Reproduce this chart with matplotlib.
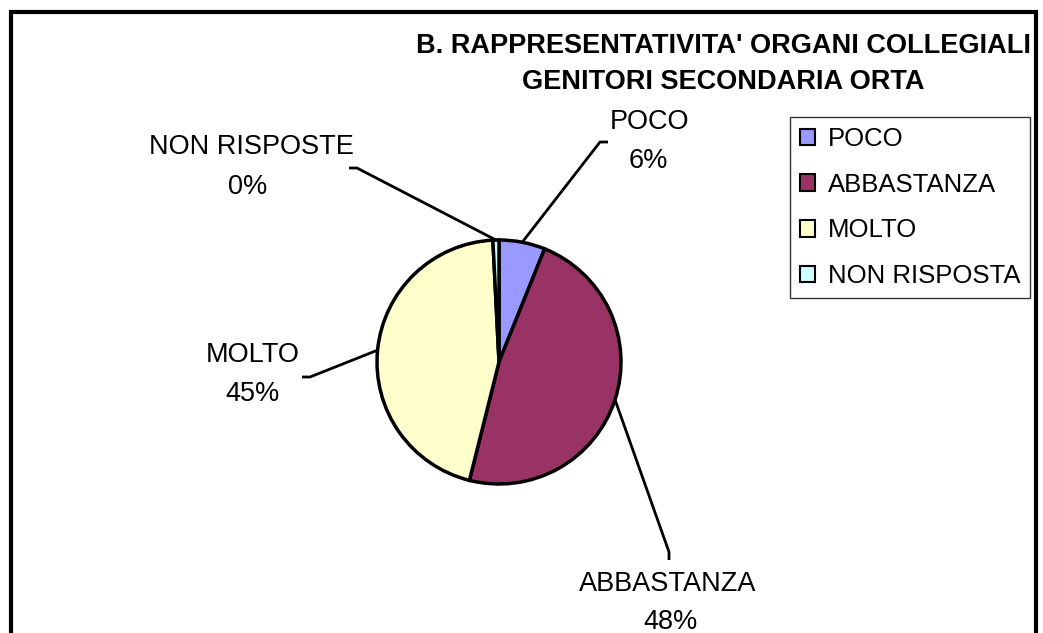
import numpy as np
import matplotlib
matplotlib.use("Agg")
import matplotlib.pyplot as plt
from matplotlib.patches import Rectangle

plt.rcParams['font.family'] = ['Liberation Sans', 'DejaVu Sans']

# data
categories = ['POCO', 'ABBASTANZA', 'MOLTO', 'NON RISPOSTA']
label_names = ['POCO', 'ABBASTANZA', 'MOLTO', 'NON RISPOSTE']
shares = [6.1, 47.8, 45.3, 0.8]
pct_labels = ['6%', '48%', '45%', '0%']
colors = ['#9999FF', '#993366', '#FFFFCC', '#CCFFFF']
title_lines = ["B. RAPPRESENTATIVITA' ORGANI COLLEGIALI",
               "GENITORI SECONDARIA ORTA"]

W, H = 1043, 633
CX, CY, R = 499, 362, 122
FS = 19.5


def py(y):
    # pixel row (from top) -> data y
    return H - y


fig = plt.figure(figsize=(W / 100, H / 100), dpi=100)
ax = fig.add_axes([0, 0, 1, 1])

wedges, _ = ax.pie(shares, colors=colors, startangle=90, counterclock=False,
                   center=(CX, py(CY)), radius=R,
                   wedgeprops=dict(edgecolor='black', linewidth=2.5))
ax.set_xlim(0, W)
ax.set_ylim(0, H)
ax.set_aspect('equal')
ax.axis('off')

# label layout: (elbow point, tick end, name pos, pct pos)
label_layout = [
    ((600, 142), (608, 142), (649, 122), (648, 161)),
    ((669, 552), (669, 560), (668, 584), (670, 622)),
    ((310, 377), (302, 377), (253, 355), (252, 394)),
    ((357, 168), (349, 168), (251, 147), (248, 187)),
]

for w, name, pct, (elbow, tick, npos, ppos) in zip(wedges, label_names, pct_labels, label_layout):
    mid = np.deg2rad((w.theta1 + w.theta2) / 2)
    sx = CX + R * np.cos(mid)
    sy = py(CY) + R * np.sin(mid)
    ax.plot([sx, elbow[0], tick[0]], [sy, py(elbow[1]), py(tick[1])],
            color='black', lw=2, solid_capstyle='butt')
    ax.text(npos[0], py(npos[1]), name, ha='center', va='center', fontsize=FS)
    ax.text(ppos[0], py(ppos[1]), pct, ha='center', va='center', fontsize=FS)

fig.text(723 / W, 1 - 46 / H, title_lines[0], ha='center', va='center',
         fontsize=FS, fontweight='bold')
fig.text(723 / W, 1 - 82 / H, title_lines[1], ha='center', va='center',
         fontsize=FS, fontweight='bold')

leg = ax.legend(wedges, categories, loc='upper left',
                bbox_to_anchor=(790 / W, 1 - 117 / H), bbox_transform=fig.transFigure,
                borderaxespad=0, fancybox=False, shadow=False, frameon=True,
                fontsize=18.5, handlelength=0.6, handleheight=0.6, handletextpad=0.5,
                labelspacing=0.85, borderpad=0.38)
leg.get_frame().set_edgecolor('black')
leg.get_frame().set_linewidth(1.0)
for h in leg.legend_handles:
    h.set_linewidth(1.5)

# outer chart border (bottom edge is cut off in the picture)
fig.patches.append(Rectangle((11 / W, -0.05), (1036 - 11) / W, 1 - 12 / H + 0.05,
                             transform=fig.transFigure, fill=False,
                             edgecolor='black', linewidth=3))

fig.savefig('out.png', dpi=100)
